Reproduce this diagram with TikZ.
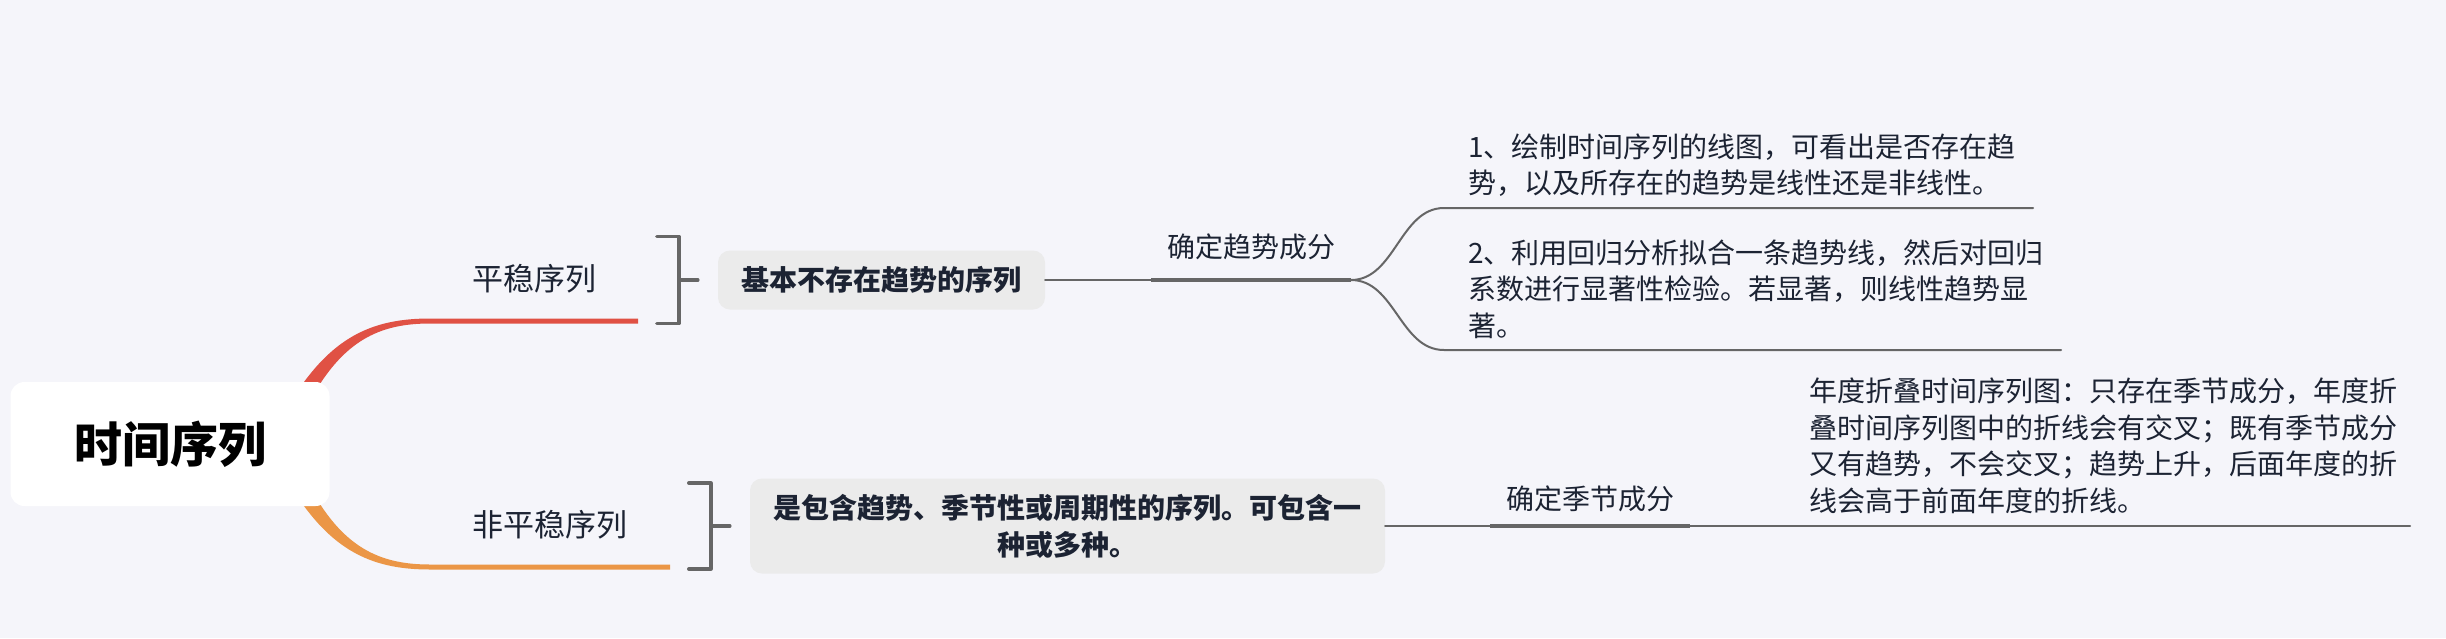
\documentclass[tikz,border=0pt]{standalone}
\usepackage{fontspec}
\setmainfont{Noto Sans CJK SC}
\definecolor{bg}{RGB}{245,245,250}
\definecolor{ink}{RGB}{28,35,51}
\definecolor{brred}{RGB}{224,81,68}
\definecolor{brorange}{RGB}{235,150,70}
\definecolor{lnk}{RGB}{102,102,102}
\definecolor{boxgray}{RGB}{235,235,235}
\begin{document}
\begin{tikzpicture}[x=1pt,y=-1pt,line join=round,line cap=round,
  rootbox/.style={fill=white,rounded corners=14pt,minimum width=319pt,minimum height=124pt,font=\bfseries\fontsize{48}{52}\selectfont},
  lbl/.style={text=ink,inner sep=0pt,font=\fontsize{31}{36}\selectfont},
  sub/.style={text=ink,inner sep=0pt,font=\fontsize{28}{34}\selectfont},
  note/.style={text=ink,inner sep=0pt,anchor=west,align=left,font=\fontsize{28}{36.5}\selectfont},
  grbox/.style={fill=boxgray,rounded corners=12pt,text=ink,align=center,font=\bfseries\fontsize{28}{37}\selectfont},
  brk/.style={draw=lnk,line width=3.5pt},
  thinln/.style={draw=lnk,line width=2pt},
  thickln/.style={draw=lnk,line width=4.5pt,line cap=butt}]
\fill[bg] (0,0) rectangle (2446,638);
\useasboundingbox (0,0) rectangle (2446,638);
\fill[brred] (297,392) .. controls (335,335) and (375,318.5) .. (430,318.5) -- (638,318.5) -- (638,323.5) -- (430,323.5) .. controls (383,323.5) and (347,338) .. (315,392) -- cycle;
\fill[brorange] (297,496) .. controls (335,553) and (375,569.5) .. (430,569.5) -- (670,569.5) -- (670,564.5) -- (430,564.5) .. controls (383,564.5) and (347,550) .. (315,496) -- cycle;
\node[rootbox] (root) at (170,444) {时间序列};
\node[lbl] (stable) at (534,279) {平稳序列};
\node[lbl] (unstable) at (550,525) {非平稳序列};
\node[grbox,minimum width=327pt,minimum height=59pt] (bx1) at (881.5,280) {基本不存在趋势的序列};
\node[grbox,minimum width=635pt,minimum height=95pt] (bx2) at (1067.5,526) {是包含趋势、季节性或周期性的序列。可包含一\\种或多种。};
\draw[brk] ([xshift=-61pt,yshift=43.5pt]bx1.west) -| ([xshift=-39pt,yshift=-43.5pt]bx1.west) -- ([xshift=-61pt,yshift=-43.5pt]bx1.west);
\draw[brk] ([xshift=-39pt]bx1.west) -- ([xshift=-20pt]bx1.west);
\draw[brk] ([xshift=-61pt,yshift=43pt]bx2.west) -| ([xshift=-39pt,yshift=-43pt]bx2.west) -- ([xshift=-61pt,yshift=-43pt]bx2.west);
\draw[brk] ([xshift=-39pt]bx2.west) -- ([xshift=-20pt]bx2.west);
\node[sub] (trend) at (1251,247) {确定趋势成分};
\coordinate (trl) at (1151,280);
\coordinate (trr) at (1351,280);
\draw[thinln] (bx1.east) -- (trl);
\draw[thickln] (trl) -- (trr);
\node[note] (d1) at (1468,165) {1、绘制时间序列的线图，可看出是否存在趋\\势，以及所存在的趋势是线性还是非线性。};
\node[note] (d2) at (1468,289) {2、利用回归分析拟合一条趋势线，然后对回归\\系数进行显著性检验。若显著，则线性趋势显\\著。};
\coordinate (d1a) at (1444,208);
\coordinate (d1b) at (2033,208);
\coordinate (d2a) at (1444,350);
\coordinate (d2b) at (2061,350);
\draw[thinln] (trr) .. controls +(44,0) and +(-44,0) .. (d1a) -- (d1b);
\draw[thinln] (trr) .. controls +(44,0) and +(-44,0) .. (d2a) -- (d2b);
\node[sub] (season) at (1590,499) {确定季节成分};
\coordinate (sel) at (1490,526);
\coordinate (ser) at (1690,526);
\coordinate (d3b) at (2410,526);
\draw[thinln] (bx2.east) -- (sel);
\draw[thickln] (sel) -- (ser);
\draw[thinln] (ser) -- (d3b);
\node[note] (d3) at (1809,446) {年度折叠时间序列图：只存在季节成分，年度折\\叠时间序列图中的折线会有交叉；既有季节成分\\又有趋势，不会交叉；趋势上升，后面年度的折\\线会高于前面年度的折线。};
\end{tikzpicture}
\end{document}
